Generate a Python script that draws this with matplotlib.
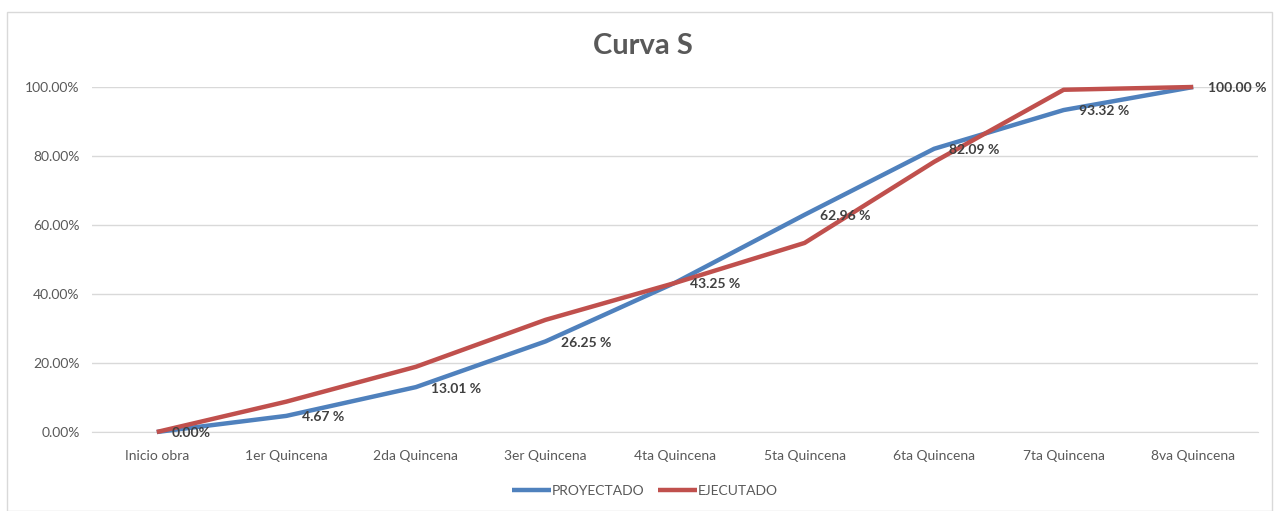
import matplotlib.pyplot as plt
from matplotlib.patches import Rectangle
from matplotlib.ticker import PercentFormatter

plt.rcParams['font.family'] = ['Lato', 'DejaVu Sans']

categories = ['Inicio obra', '1er Quincena', '2da Quincena', '3er Quincena', '4ta Quincena',
              '5ta Quincena', '6ta Quincena', '7ta Quincena', '8va Quincena']
proyectado = [0.00, 4.67, 13.01, 26.25, 43.25, 62.96, 82.09, 93.32, 100.00]
ejecutado = [0.0, 8.8, 18.9, 32.5, 43.2, 54.8, 78.3, 99.2, 100.0]
etiquetas = ['0.00%', '4.67 %', '13.01 %', '26.25 %', '43.25 %', '62.96 %', '82.09 %', '93.32 %', '100.00 %']

fig = plt.figure(figsize=(12.79, 5.11), dpi=100)
ax = fig.add_axes([92 / 1279, 1 - 432 / 511, 1166 / 1279, 345 / 511])

# chart frame
fig.patches.append(Rectangle((7 / 1279, 0), 1265 / 1279, 1 - 12 / 511, transform=fig.transFigure,
                             fill=False, edgecolor='#d9d9d9', lw=1))

x = range(len(categories))
ax.plot(x, proyectado, color='#4f81bd', lw=3.2, label='PROYECTADO', clip_on=False, zorder=3,
        solid_capstyle='butt')
ax.plot(x, ejecutado, color='#c0504d', lw=3.2, label='EJECUTADO', clip_on=False, zorder=3,
        solid_capstyle='butt')

for xi, v, t in zip(x, proyectado, etiquetas):
    ax.annotate(t, (xi, v), xytext=(11, -1), textcoords='offset points', ha='left', va='center',
                fontsize=10, fontweight='bold', color='#404040', zorder=4)

ax.set_xlim(-0.5, len(categories) - 0.5)
ax.set_ylim(0, 100)
ax.set_yticks([0, 20, 40, 60, 80, 100])
ax.yaxis.set_major_formatter(PercentFormatter(decimals=2))
ax.set_xticks(list(x))
ax.set_xticklabels(categories)
ax.tick_params(axis='both', length=0, labelsize=10, labelcolor='#595959')
ax.tick_params(axis='y', pad=9)
ax.tick_params(axis='x', pad=13)
ax.grid(axis='y', color='#d9d9d9', lw=1)
ax.set_axisbelow(True)
for s in ['top', 'right', 'left']:
    ax.spines[s].set_visible(False)
ax.spines['bottom'].set_color('#d9d9d9')

fig.text(643 / 1279, 1 - 46 / 511, 'Curva S', ha='center', va='center', fontsize=21,
         fontweight='bold', color='#595959')

ax.legend(loc='center', bbox_to_anchor=((645 - 92) / 1166, -0.17), ncol=2, frameon=False, fontsize=10,
          handlelength=2.8, handletextpad=0.05, columnspacing=1.0, labelcolor='#595959')

fig.savefig('out.png', dpi=100)
